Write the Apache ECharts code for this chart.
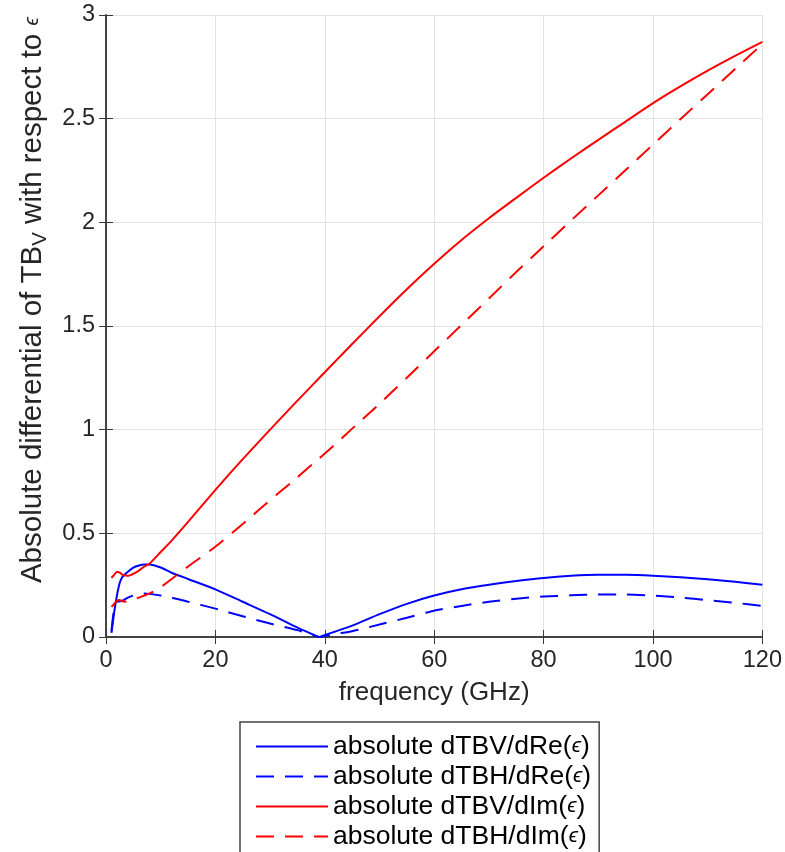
<!DOCTYPE html>
<html><head><meta charset="utf-8">
<script src="https://cdn.jsdelivr.net/npm/echarts@6/dist/echarts.min.js"></script>
<style>html,body{margin:0;padding:0;background:#fff}#c{width:785px;height:852px}</style>
</head><body><div id="c"></div>
<script>
const freq = [1,1.5,2,2.5,3,4,5,6,7,8,10,12,15,20,25,30,35,38,39,40,42,45,50,55,60,65,70,75,80,85,90,95,100,105,110,115,120];
const vRe = [0.02,0.12,0.20,0.26,0.29,0.315,0.335,0.345,0.35,0.35,0.335,0.31,0.28,0.23,0.17,0.11,0.045,0.01,0.0,0.01,0.027,0.055,0.11,0.16,0.20,0.23,0.252,0.27,0.285,0.295,0.30,0.30,0.296,0.288,0.279,0.266,0.252];
const hRe = [0.03,0.14,0.17,0.172,0.175,0.19,0.20,0.206,0.21,0.208,0.20,0.19,0.17,0.137,0.10,0.065,0.033,0.008,0.0,0.005,0.015,0.028,0.06,0.093,0.127,0.15,0.17,0.185,0.195,0.201,0.205,0.205,0.20,0.19,0.178,0.165,0.15];
const vIm = [0.285,0.30,0.315,0.31,0.30,0.295,0.305,0.32,0.34,0.355,0.41,0.465,0.555,0.71,0.858,1.0,1.14,1.222,1.25,1.277,1.332,1.413,1.547,1.677,1.80,1.915,2.02,2.118,2.215,2.308,2.398,2.486,2.575,2.656,2.732,2.803,2.87];
const hIm = [0.145,0.16,0.175,0.178,0.172,0.17,0.18,0.19,0.20,0.21,0.24,0.28,0.34,0.435,0.545,0.66,0.77,0.84,0.862,0.885,0.932,1.005,1.125,1.25,1.378,1.505,1.633,1.76,1.885,2.008,2.13,2.252,2.375,2.497,2.618,2.74,2.86];
const names = ['absolute dTBV/dRe(ϵ)','absolute dTBH/dRe(ϵ)','absolute dTBV/dIm(ϵ)','absolute dTBH/dIm(ϵ)'];
const xTicks = [0,20,40,60,80,100,120];
const yTicks = [0,0.5,1,1.5,2,2.5,3];

const FONT = 'Liberation Sans';
const axisCol = '#3a3a3a';
const txtCol = '#262626';
const pair = ys => freq.map((f,i)=>[f, ys[i]]);
const mk = (name, ys, color, dashed) => ({
  name, type:'line', data: pair(ys), symbol:'none', smooth:0.2,
  lineStyle:{color, width:2, type: dashed ? [18,11] : 'solid'}, itemStyle:{color},
  xAxisIndex:0, yAxisIndex:0, z:3
});
const chart = echarts.init(document.getElementById('c'), null, {renderer:'canvas'});
chart.setOption({
  animation:false,
  backgroundColor:'#fff',
  textStyle:{fontFamily:FONT},
  grid:{left:106, top:15, right:22, bottom:215, containLabel:false},
  xAxis:[{
    type:'value', min:0, max:120, interval:20, position:'bottom',
    name:'frequency (GHz)', nameLocation:'middle', nameGap:43,
    nameTextStyle:{fontFamily:FONT, fontSize:26, color:txtCol},
    axisLine:{show:true, lineStyle:{color:axisCol, width:1.5}},
    axisTick:{show:true, inside:true, length:7, lineStyle:{color:axisCol}},
    axisLabel:{fontFamily:FONT, fontSize:23.5, color:txtCol, margin:12,
      formatter: v => xTicks.includes(v) ? String(v) : ''},
    splitLine:{show:true, lineStyle:{color:'#e3e3e3', width:1}}
  },{
    type:'value', min:0, max:120, interval:20, position:'top',
    axisLine:{show:true, lineStyle:{color:axisCol, width:1.5}},
    axisTick:{show:true, inside:true, length:7, lineStyle:{color:axisCol}},
    axisLabel:{show:false}, splitLine:{show:false}
  }],
  yAxis:[{
    type:'value', min:0, max:3, interval:0.5, position:'left',
    axisLine:{show:true, lineStyle:{color:axisCol, width:1.5}},
    axisTick:{show:true, inside:true, length:7, lineStyle:{color:axisCol}},
    axisLabel:{fontFamily:FONT, fontSize:23.5, color:txtCol, margin:11,
      formatter: v => yTicks.includes(v) ? String(v) : ''},
    splitLine:{show:true, lineStyle:{color:'#e3e3e3', width:1}}
  },{
    type:'value', min:0, max:3, interval:0.5, position:'right',
    axisLine:{show:true, lineStyle:{color:axisCol, width:1.5}},
    axisTick:{show:true, inside:true, length:7, lineStyle:{color:axisCol}},
    axisLabel:{show:false}, splitLine:{show:false}
  }],
  graphic:[{
    type:'text', x:33, y:300, rotation:Math.PI/2, z:10,
    style:{
      text:'{a|Absolute differential of TB}{s|V}{a| with respect to }{e|ϵ}',
      align:'center', verticalAlign:'middle',
      font:'29.5px "Liberation Sans"', fill:txtCol,
      rich:{a:{fontFamily:FONT, fontSize:29.5, fill:txtCol, lineHeight:32},
            s:{fontFamily:FONT, fontSize:20.5, fill:txtCol, lineHeight:32, padding:[15,0,0,0]},
            e:{fontFamily:FONT, fontSize:19.5, fill:txtCol, lineHeight:32, fontStyle:'italic'}}
    }
  }],
  legend:{
    orient:'vertical', left:240, top:722, height:200,
    data: names,
    itemWidth:72, itemHeight:14, itemGap:3,
    padding:[11,8,10,15],
    borderColor:'#444', borderWidth:1.5, backgroundColor:'#fff',
    itemStyle:{opacity:0},
    formatter: n => {
      const i = n.indexOf('(');
      return '{a|' + n.slice(0,i+1) + '}{e|ϵ}{a|)}';
    },
    textStyle:{fontFamily:FONT, fontSize:26.5, color:'#000',
      rich:{a:{fontFamily:FONT, fontSize:26.5, color:'#000', lineHeight:26},
            e:{fontFamily:FONT, fontSize:21, color:'#000', fontStyle:'italic', lineHeight:26}}}
  },
  series:[
    mk(names[0], vRe, '#0000ff', false),
    mk(names[1], hRe, '#0000ff', true),
    mk(names[2], vIm, '#ff0000', false),
    mk(names[3], hIm, '#ff0000', true)
  ]
});
</script></body></html>
